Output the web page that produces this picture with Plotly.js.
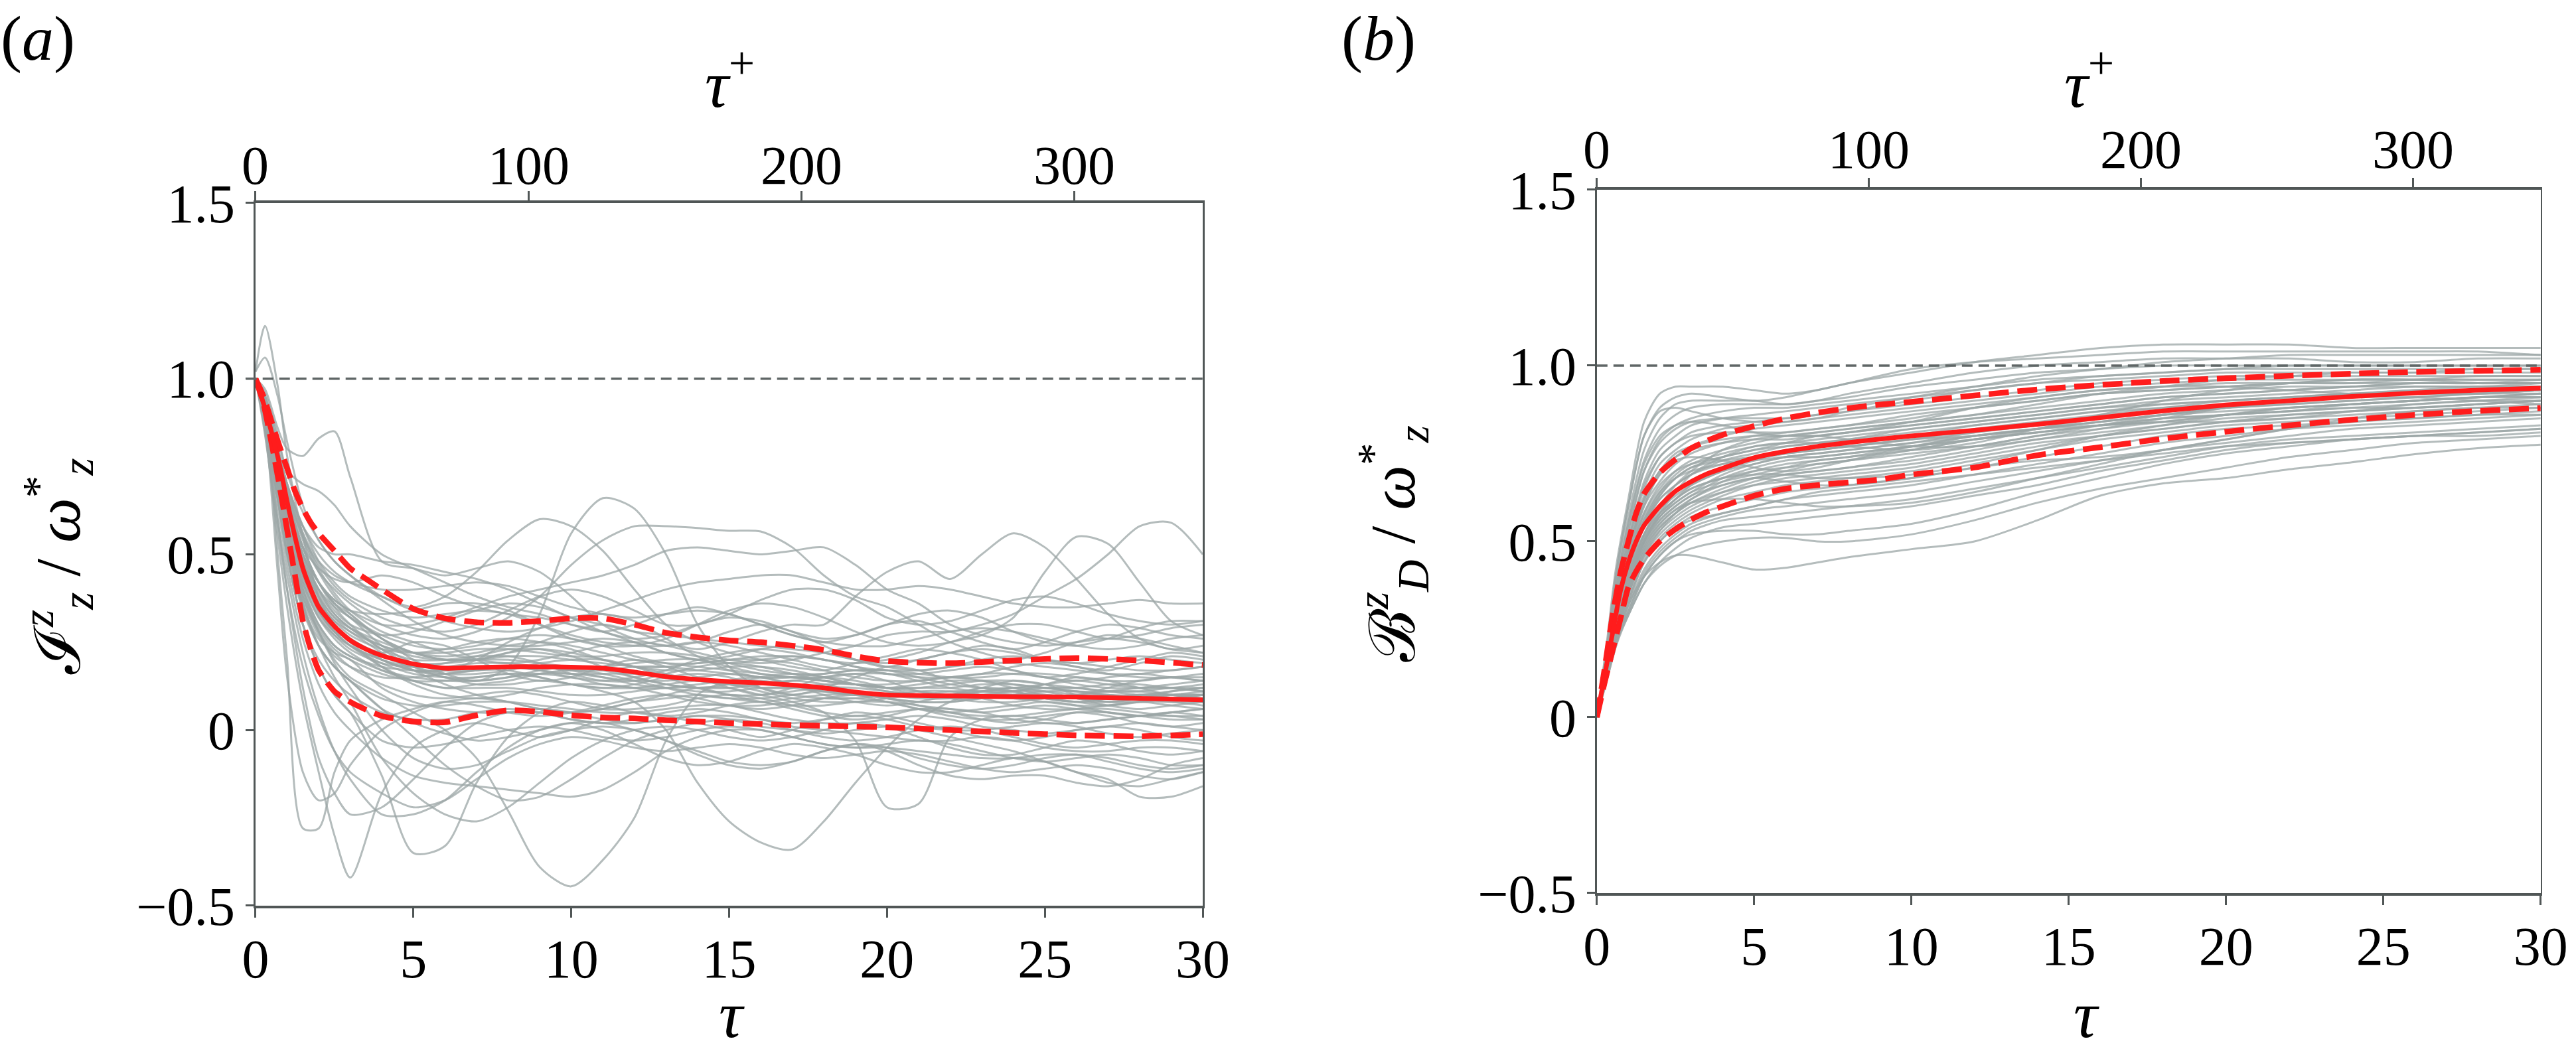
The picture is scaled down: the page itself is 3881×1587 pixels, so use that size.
<!DOCTYPE html>
<html><head><meta charset="utf-8">
<script src="https://cdn.plot.ly/plotly-3.0.1.min.js"></script>
<style>html,body{margin:0;padding:0;background:#fff;} #plot{width:3881px;height:1587px;}</style>
</head><body><div id="plot"></div>
<script>
// ---------- DATA ----------
// time grids
const tauL = [0,0.3,0.7,1,1.5,2,2.5,3,4,5,6,7,8,9,10,11,12,13,14,15,16,17,18,19,20,21,22,23,24,25,26,27,28,29,30];
const tauR = [0,0.3,0.6,1,1.5,2,2.5,3,4,5,6,7,8,10,12,14,16,18,20,22,24,26,28,30];
const tauRedL = [0,0.25,0.5,0.75,1,1.25,1.5,1.75,2,2.5,3,3.5,4,5,6,7,8,9,10,11,12,13,14,15,16,17,18,19,20,22,24,26,28,30];
const tauRedR = [0,0.25,0.5,0.75,1,1.25,1.5,2,2.5,3,3.5,4,5,6,7,8,9,10,12,14,16,18,20,22,24,26,28,30];

// panel (a): mean and +/- band of I_z^z / omega_z^*
const meanL  = [1.0,0.93,0.85,0.76,0.65,0.55,0.46,0.40,0.35,0.295,0.255,0.23,0.212,0.188,0.176,0.178,0.18,0.18,0.179,0.176,0.165,0.152,0.144,0.138,0.134,0.128,0.12,0.108,0.1,0.097,0.095,0.094,0.09,0.086];
const upperL = [1.0,0.95,0.88,0.81,0.745,0.68,0.63,0.59,0.56,0.51,0.46,0.43,0.40,0.345,0.318,0.307,0.305,0.31,0.318,0.318,0.3,0.277,0.264,0.255,0.25,0.24,0.228,0.21,0.196,0.19,0.198,0.205,0.198,0.185];
const lowerL = [1.0,0.93,0.82,0.70,0.57,0.44,0.31,0.23,0.17,0.11,0.08,0.058,0.04,0.024,0.022,0.042,0.056,0.052,0.042,0.036,0.033,0.028,0.024,0.02,0.017,0.014,0.012,0.01,0.008,0.0,-0.008,-0.015,-0.018,-0.012];

// panel (b): mean and +/- band of B_D^z / omega_z^*
const meanR  = [0,0.12,0.24,0.36,0.44,0.5,0.545,0.6,0.643,0.67,0.692,0.708,0.738,0.756,0.77,0.781,0.791,0.8,0.816,0.833,0.852,0.871,0.888,0.9,0.912,0.922,0.93,0.936];
const upperR = [0,0.14,0.29,0.41,0.5,0.58,0.635,0.695,0.733,0.765,0.786,0.803,0.828,0.85,0.866,0.879,0.889,0.897,0.915,0.932,0.945,0.956,0.964,0.971,0.977,0.982,0.985,0.988];
const lowerR = [0,0.1,0.19,0.28,0.37,0.415,0.45,0.5,0.535,0.562,0.584,0.6,0.63,0.65,0.66,0.668,0.676,0.69,0.71,0.745,0.768,0.792,0.812,0.83,0.846,0.86,0.871,0.879];

// individual realisations, panel (a), sampled on tauL
const grayL = [
 [1.02,1.15,0.98,0.78,0.55, 0.38,0.3,0.26,0.22,0.25, 0.24,0.2,0.16,0.14,0.15, 0.18,0.2,0.18,0.15,0.12, 0.1,0.12,0.15,0.16,0.14, 0.11,0.1,0.12,0.14,0.13, 0.1,0.08,0.09,0.11,0.12],
 [1.0,0.97,0.86,0.8,0.78, 0.83,0.85,0.72,0.48,0.46, 0.44,0.46,0.48,0.45,0.38, 0.3,0.26,0.24,0.25,0.28, 0.3,0.28,0.24,0.2,0.18, 0.2,0.22,0.24,0.23,0.2, 0.18,0.17,0.19,0.21,0.2],
 [1.0,0.96,0.84,0.74,0.7, 0.68,0.64,0.58,0.5,0.46, 0.42,0.38,0.35,0.33,0.3, 0.28,0.3,0.33,0.35,0.33, 0.3,0.27,0.25,0.27,0.3, 0.31,0.28,0.25,0.23,0.25, 0.28,0.3,0.29,0.27,0.26],
 [1.0,0.95,0.8,0.7,0.58, 0.5,0.45,0.42,0.38,0.35, 0.38,0.45,0.54,0.6,0.58, 0.51,0.4,0.3,0.25,0.22, 0.2,0.18,0.17,0.19,0.21, 0.23,0.22,0.2,0.17,0.15, 0.16,0.18,0.2,0.22,0.21],
 [1.0,0.93,0.78,0.66,0.52, 0.42,0.36,0.32,0.26,0.2, 0.16,0.14,0.18,0.33,0.56, 0.66,0.63,0.5,0.3,0.18, 0.12,0.1,0.12,0.15,0.18, 0.17,0.14,0.12,0.11,0.13, 0.15,0.14,0.12,0.1,0.1],
 [1.0,0.94,0.8,0.68,0.54, 0.45,0.4,0.36,0.3,0.27, 0.26,0.28,0.32,0.38,0.47, 0.54,0.58,0.58,0.575,0.567, 0.565,0.52,0.44,0.38,0.35, 0.3,0.25,0.22,0.2,0.22, 0.25,0.27,0.26,0.24,0.22],
 [1.0,0.92,0.77,0.64,0.5, 0.42,0.37,0.34,0.3,0.3, 0.32,0.35,0.38,0.4,0.42, 0.44,0.47,0.51,0.52,0.51, 0.5,0.51,0.52,0.47,0.4, 0.36,0.3,0.27,0.25,0.24, 0.25,0.26,0.25,0.23,0.22],
 [1.0,0.93,0.79,0.67,0.52, 0.42,0.36,0.33,0.26,0.22, 0.2,0.2,0.22,0.25,0.28, 0.3,0.28,0.25,0.23,0.25, 0.28,0.3,0.3,0.38,0.45, 0.48,0.43,0.5,0.56,0.52, 0.43,0.33,0.26,0.23,0.24],
 [1.0,0.9,0.74,0.62,0.48, 0.4,0.35,0.32,0.24,0.19, 0.17,0.17,0.18,0.17,0.15, 0.14,0.15,0.17,0.2,0.22, 0.23,0.22,0.2,0.19,0.2, 0.22,0.25,0.27,0.32,0.45, 0.55,0.53,0.42,0.31,0.27],
 [1.0,0.95,0.81,0.7,0.56, 0.46,0.39,0.34,0.28,0.25, 0.22,0.2,0.19,0.2,0.22, 0.24,0.25,0.24,0.22,0.2, 0.19,0.2,0.22,0.24,0.27, 0.28,0.28,0.3,0.33,0.38, 0.43,0.5,0.58,0.59,0.5],
 [1.0,0.9,0.7,0.56,0.38, 0.28,0.2,0.15,0.1,0.05, 0.0,-0.08,-0.23,-0.39,-0.445, -0.37,-0.25,-0.03,0.1,0.14, 0.15,0.13,0.1,0.08,0.07, 0.08,0.1,0.12,0.11,0.09, 0.08,0.07,0.08,0.1,0.1],
 [1.0,0.88,0.66,0.5,0.3, 0.18,0.1,0.05,-0.13,-0.35, -0.33,-0.15,-0.02,0.05,0.08, 0.07,0.05,0.04,0.05,0.07, 0.08,0.06,0.04,0.03,0.04, 0.06,0.05,0.03,0.02,0.03, 0.05,0.04,0.02,0.01,0.02],
 [1.0,0.85,0.55,0.35,0.08, -0.12,-0.3,-0.42,-0.18,-0.05, 0.0,0.02,0.0,-0.02,0.0, 0.03,0.05,0.04,0.02,0.0, -0.02,0.0,0.03,0.05,0.04, 0.02,0.0,-0.02,-0.03,-0.02, 0.0,0.01,0.0,-0.02,-0.03],
 [1.0,0.9,0.5,0.2,-0.28, -0.28,-0.12,-0.03,0.03,0.06, 0.08,0.07,0.05,0.04,0.05, 0.07,0.09,0.1,0.09,0.07, 0.06,0.07,0.09,0.1,0.09, 0.07,0.06,0.05,0.06,0.07, 0.06,0.05,0.04,0.05,0.06],
 [1.0,0.92,0.74,0.6,0.44, 0.34,0.28,0.26,0.2,0.17, 0.15,0.13,0.13,0.14,0.13, 0.11,0.08,0.0,-0.15,-0.26, -0.32,-0.34,-0.26,-0.15,-0.05, 0.03,0.08,0.11,0.11,0.09, 0.08,0.09,0.1,0.09,0.08],
 [1.0,0.93,0.76,0.62,0.45, 0.36,0.31,0.28,0.22,0.17, 0.13,0.1,0.08,0.06,0.05, 0.06,0.08,0.1,0.12,0.12, 0.1,0.08,0.05,-0.03,-0.22, -0.21,-0.02,0.03,0.04,0.03, 0.02,0.03,0.04,0.05,0.04],
 [1.0,0.88,0.66,0.52,0.35, 0.26,0.22,0.2,0.12,0.08, 0.06,0.05,0.05,0.06,0.05, 0.03,0.02,0.03,0.04,0.03, 0.01,0.0,-0.01,0.0,0.01, 0.0,-0.02,-0.04,-0.06,-0.09, -0.12,-0.14,-0.19,-0.19,-0.16],
 [1.0,0.94,0.8,0.7,0.58, 0.52,0.5,0.5,0.48,0.47, 0.45,0.43,0.4,0.36,0.32, 0.3,0.28,0.27,0.26,0.25, 0.24,0.23,0.22,0.2,0.18, 0.17,0.18,0.2,0.21,0.2, 0.19,0.18,0.17,0.17,0.18],
 [1.0,0.92,0.77,0.66,0.52, 0.46,0.43,0.42,0.44,0.42, 0.38,0.35,0.33,0.32,0.3, 0.28,0.25,0.22,0.2,0.21, 0.23,0.24,0.22,0.2,0.19, 0.2,0.22,0.23,0.22,0.2, 0.19,0.2,0.21,0.2,0.19],
 [1.0,0.92,0.8,0.7,0.58, 0.48,0.42,0.38,0.34,0.32, 0.33,0.34,0.33,0.3,0.27, 0.25,0.24,0.24,0.25,0.24, 0.22,0.2,0.18,0.17,0.16, 0.15,0.15,0.16,0.18,0.19, 0.18,0.16,0.15,0.15,0.16],
 [1.0,0.93,0.79,0.66,0.52, 0.42,0.36,0.32,0.27,0.24, 0.23,0.24,0.26,0.27,0.26, 0.24,0.21,0.19,0.18,0.17, 0.16,0.15,0.14,0.13,0.12, 0.12,0.13,0.14,0.14,0.13, 0.12,0.11,0.11,0.12,0.12],
 [1.0,0.92,0.78,0.64,0.48, 0.38,0.32,0.28,0.24,0.21, 0.2,0.2,0.21,0.21,0.2, 0.19,0.18,0.16,0.14,0.13, 0.13,0.14,0.15,0.14,0.12, 0.1,0.09,0.09,0.1,0.11, 0.11,0.1,0.09,0.09,0.1],
 [1.0,0.91,0.76,0.62,0.46, 0.36,0.3,0.26,0.21,0.18, 0.16,0.16,0.17,0.19,0.2, 0.2,0.18,0.15,0.12,0.1, 0.1,0.11,0.12,0.12,0.11, 0.1,0.1,0.11,0.12,0.11, 0.09,0.08,0.08,0.09,0.1],
 [1.0,0.93,0.78,0.65,0.5, 0.4,0.33,0.29,0.23,0.18, 0.15,0.14,0.15,0.17,0.18, 0.17,0.15,0.13,0.12,0.12, 0.13,0.14,0.13,0.11,0.09, 0.08,0.08,0.09,0.1,0.1, 0.09,0.07,0.06,0.07,0.08],
 [1.0,0.9,0.74,0.6,0.44, 0.34,0.28,0.24,0.19,0.16, 0.15,0.15,0.16,0.15,0.13, 0.12,0.12,0.13,0.14,0.13, 0.11,0.09,0.08,0.08,0.09, 0.1,0.1,0.09,0.07,0.06, 0.06,0.07,0.08,0.07,0.06],
 [1.0,0.91,0.75,0.62,0.45, 0.34,0.28,0.24,0.18,0.14, 0.12,0.13,0.14,0.16,0.17, 0.16,0.14,0.12,0.1,0.09, 0.09,0.1,0.11,0.1,0.08, 0.06,0.05,0.06,0.07,0.08, 0.07,0.05,0.04,0.05,0.06],
 [1.0,0.89,0.72,0.58,0.42, 0.32,0.26,0.22,0.17,0.14, 0.12,0.12,0.12,0.11,0.1, 0.1,0.11,0.12,0.12,0.1, 0.08,0.07,0.07,0.08,0.08, 0.07,0.05,0.04,0.04,0.05, 0.06,0.06,0.05,0.04,0.04],
 [1.0,0.92,0.77,0.63,0.47, 0.36,0.3,0.25,0.18,0.13, 0.1,0.09,0.1,0.12,0.13, 0.13,0.12,0.1,0.08,0.07, 0.07,0.08,0.09,0.09,0.08, 0.06,0.04,0.03,0.03,0.04, 0.05,0.05,0.04,0.03,0.03],
 [1.0,0.88,0.7,0.56,0.38, 0.28,0.22,0.18,0.13,0.1, 0.09,0.1,0.11,0.1,0.08, 0.06,0.06,0.07,0.09,0.1, 0.09,0.07,0.05,0.04,0.05, 0.06,0.06,0.05,0.03,0.02, 0.02,0.03,0.04,0.04,0.03],
 [1.0,0.87,0.68,0.54,0.35, 0.24,0.18,0.14,0.09,0.07, 0.07,0.08,0.08,0.07,0.06, 0.05,0.05,0.06,0.07,0.07, 0.05,0.03,0.02,0.02,0.03, 0.04,0.03,0.01,0.0,-0.01, 0.0,0.01,0.02,0.01,0.0],
 [1.0,0.86,0.66,0.5,0.3, 0.2,0.14,0.1,0.05,0.03, 0.03,0.05,0.06,0.05,0.03, 0.02,0.02,0.03,0.04,0.04, 0.03,0.01,0.0,-0.01,-0.02, -0.03,-0.03,-0.02,-0.03,-0.05, -0.06,-0.06,-0.05,-0.05,-0.06],
 [1.0,0.87,0.66,0.5,0.3, 0.18,0.1,0.05,-0.03,-0.05, -0.04,-0.02,0.0,0.01,0.0, -0.02,-0.03,-0.02,0.0,0.01, 0.0,-0.02,-0.04,-0.05,-0.05, -0.06,-0.07,-0.08,-0.08,-0.07, -0.07,-0.08,-0.1,-0.11,-0.1],
 [1.0,0.84,0.58,0.4,0.18, 0.04,-0.06,-0.12,-0.18,-0.22, -0.2,-0.14,-0.08,-0.04,-0.02, -0.03,-0.05,-0.06,-0.05,-0.04, -0.05,-0.07,-0.08,-0.07,-0.06, -0.07,-0.09,-0.11,-0.12,-0.11, -0.1,-0.11,-0.13,-0.14,-0.12],
 [1.0,0.86,0.6,0.44,0.22, 0.06,-0.06,-0.14,-0.24,-0.24, -0.2,-0.12,-0.05,0.0,0.02, 0.0,-0.04,-0.08,-0.1,-0.09, -0.06,-0.04,-0.05,-0.07,-0.1, -0.12,-0.12,-0.1,-0.08,-0.09, -0.12,-0.15,-0.16,-0.14,-0.12],
 [1.0,0.9,0.68,0.54,0.36, 0.24,0.15,0.08,-0.08,-0.18, -0.24,-0.26,-0.22,-0.15,-0.08, -0.03,0.0,0.01,0.0,-0.02, -0.03,-0.02,0.0,0.02,0.01, -0.02,-0.05,-0.07,-0.07,-0.05, -0.03,-0.04,-0.06,-0.07,-0.06],
 [1.0,0.92,0.72,0.58,0.4, 0.28,0.19,0.12,0.0,-0.08, -0.11,-0.1,-0.06,-0.02,0.0, 0.01,0.0,-0.03,-0.07,-0.1, -0.11,-0.09,-0.06,-0.04,-0.05, -0.08,-0.1,-0.11,-0.1,-0.08, -0.07,-0.09,-0.11,-0.12,-0.11],
 [1.0,0.95,0.83,0.73,0.62, 0.54,0.48,0.44,0.38,0.34, 0.31,0.29,0.28,0.29,0.31, 0.34,0.37,0.4,0.42,0.43, 0.44,0.44,0.42,0.4,0.4, 0.41,0.4,0.38,0.36,0.35, 0.35,0.36,0.37,0.36,0.36],
 [1.0,0.93,0.79,0.68,0.55, 0.47,0.41,0.37,0.32,0.29, 0.28,0.3,0.34,0.38,0.4, 0.38,0.34,0.3,0.3,0.33, 0.37,0.4,0.4,0.37,0.32, 0.3,0.31,0.34,0.37,0.38, 0.36,0.33,0.31,0.3,0.31],
 [1.0,0.92,0.77,0.65,0.5, 0.42,0.37,0.34,0.33,0.34, 0.36,0.36,0.34,0.3,0.26, 0.24,0.24,0.26,0.3,0.34, 0.36,0.35,0.32,0.28,0.25, 0.24,0.25,0.28,0.3,0.3, 0.28,0.26,0.27,0.29,0.3],
 [1.0,0.89,0.68,0.52,0.34, 0.24,0.18,0.14,0.06,-0.02, -0.1,-0.16,-0.2,-0.19,-0.14, -0.08,-0.03,0.0,0.02,0.03, 0.02,0.0,-0.02,-0.03,-0.02, 0.0,0.01,0.0,-0.02,-0.04, -0.05,-0.04,-0.03,-0.03,-0.04],
 [1.0,0.88,0.64,0.47,0.26, 0.13,0.05,0.0,-0.08,-0.13, -0.15,-0.16,-0.17,-0.18,-0.19, -0.17,-0.12,-0.06,-0.02,0.0, 0.0,-0.02,-0.04,-0.05,-0.04, -0.03,-0.04,-0.06,-0.08,-0.09, -0.08,-0.07,-0.08,-0.1,-0.1],
 [1.0,0.9,0.7,0.55,0.36, 0.24,0.18,0.14,0.06,0.02, -0.01,-0.03,-0.02,0.0,0.02, 0.02,0.0,-0.03,-0.06,-0.09, -0.1,-0.09,-0.06,-0.04,-0.06, -0.1,-0.13,-0.14,-0.13,-0.13, -0.15,-0.16,-0.14,-0.1,-0.08],
 [1.02,1.06,0.95,0.82,0.64, 0.54,0.48,0.44,0.37,0.31, 0.27,0.25,0.24,0.24,0.25, 0.26,0.25,0.22,0.2,0.19, 0.2,0.21,0.2,0.18,0.16, 0.16,0.17,0.18,0.17,0.15, 0.14,0.15,0.16,0.15,0.14],
 [1.0,0.87,0.45,0.15,-0.12, -0.2,-0.18,-0.1,0.0,0.05, 0.08,0.09,0.08,0.06,0.05, 0.06,0.08,0.09,0.1,0.09, 0.08,0.09,0.1,0.1,0.09, 0.08,0.08,0.09,0.09,0.08, 0.07,0.07,0.08,0.08,0.07],
 [1.0,0.92,0.76,0.63,0.46, 0.36,0.3,0.26,0.2,0.17, 0.17,0.2,0.25,0.29,0.32, 0.33,0.31,0.26,0.21,0.17, 0.15,0.15,0.16,0.17,0.17, 0.15,0.13,0.12,0.12,0.13, 0.14,0.13,0.12,0.12,0.13],
 [1.0,0.88,0.6,0.4,0.12, -0.08,-0.18,-0.24,-0.22,-0.14, -0.05,0.02,0.05,0.05,0.03, 0.02,0.03,0.05,0.06,0.05, 0.03,0.02,0.03,0.04,0.03, 0.01,0.0,0.0,0.01,0.02, 0.01,-0.01,-0.02,-0.01,0.0],
 [1.0,0.94,0.8,0.68,0.55, 0.45,0.38,0.33,0.26,0.22, 0.2,0.2,0.2,0.19,0.18, 0.18,0.19,0.2,0.2,0.18, 0.16,0.15,0.15,0.16,0.16, 0.14,0.12,0.11,0.11,0.12, 0.12,0.11,0.1,0.1,0.11],
 [1.0,0.93,0.79,0.66,0.52, 0.42,0.35,0.3,0.23,0.2, 0.2,0.21,0.21,0.19,0.16, 0.14,0.14,0.16,0.18,0.19, 0.18,0.16,0.14,0.13,0.13, 0.14,0.15,0.14,0.12,0.1, 0.1,0.12,0.14,0.15,0.14],
 [1.0,0.94,0.8,0.69,0.56, 0.48,0.44,0.42,0.4,0.4, 0.41,0.42,0.41,0.38,0.35, 0.33,0.32,0.33,0.34,0.33, 0.3,0.27,0.25,0.24,0.24, 0.26,0.28,0.29,0.28,0.26, 0.24,0.23,0.24,0.26,0.27],
 [1.0,0.93,0.78,0.66,0.5, 0.4,0.34,0.3,0.27,0.28, 0.31,0.34,0.36,0.35,0.32, 0.28,0.26,0.27,0.3,0.32, 0.31,0.28,0.26,0.27,0.3, 0.33,0.34,0.32,0.28,0.25, 0.24,0.26,0.29,0.31,0.31],
 [1.0,0.92,0.76,0.63,0.48, 0.38,0.32,0.29,0.25,0.22, 0.21,0.22,0.24,0.25,0.24, 0.22,0.2,0.19,0.19,0.2, 0.21,0.21,0.2,0.18,0.17, 0.17,0.18,0.19,0.19,0.18, 0.17,0.16,0.16,0.17,0.18],
 [1.0,0.91,0.74,0.6,0.44, 0.34,0.28,0.24,0.2,0.18, 0.18,0.19,0.19,0.18,0.17, 0.17,0.18,0.18,0.17,0.16, 0.15,0.15,0.14,0.13,0.12, 0.12,0.12,0.13,0.13,0.12, 0.11,0.11,0.12,0.12,0.11],
 [1.0,0.9,0.72,0.58,0.41, 0.3,0.24,0.21,0.17,0.15, 0.14,0.14,0.15,0.16,0.16, 0.15,0.13,0.12,0.11,0.11, 0.12,0.12,0.11,0.1,0.1, 0.11,0.11,0.1,0.09,0.09, 0.1,0.11,0.11,0.1,0.09],
 [1.0,0.92,0.75,0.61,0.45, 0.35,0.29,0.25,0.21,0.19, 0.19,0.2,0.22,0.23,0.22, 0.2,0.18,0.17,0.17,0.18, 0.18,0.17,0.15,0.13,0.12, 0.13,0.14,0.14,0.13,0.12, 0.12,0.13,0.13,0.12,0.11],
 [1.0,0.91,0.73,0.59,0.42, 0.32,0.27,0.24,0.2,0.17, 0.16,0.17,0.18,0.18,0.17, 0.15,0.14,0.14,0.15,0.16, 0.15,0.13,0.11,0.1,0.1, 0.1,0.11,0.11,0.1,0.09, 0.08,0.08,0.09,0.1,0.1],
 [1.0,0.93,0.77,0.64,0.49, 0.39,0.33,0.29,0.24,0.22, 0.22,0.23,0.23,0.22,0.21, 0.21,0.22,0.22,0.21,0.19, 0.17,0.16,0.16,0.17,0.17, 0.16,0.15,0.15,0.16,0.16, 0.15,0.14,0.14,0.15,0.15],
 [1.0,0.9,0.71,0.56,0.39, 0.29,0.23,0.2,0.16,0.14, 0.14,0.15,0.16,0.16,0.15, 0.13,0.12,0.12,0.13,0.14, 0.14,0.13,0.12,0.11,0.1, 0.09,0.09,0.1,0.11,0.11, 0.1,0.09,0.09,0.09,0.1],
 [1.0,0.92,0.74,0.6,0.43, 0.33,0.27,0.23,0.19,0.18, 0.19,0.21,0.23,0.23,0.21, 0.18,0.15,0.13,0.12,0.13, 0.15,0.16,0.15,0.13,0.11, 0.1,0.1,0.11,0.12,0.12, 0.11,0.1,0.1,0.11,0.12],
 [1.0,0.89,0.7,0.55,0.37, 0.27,0.21,0.18,0.15,0.15, 0.16,0.17,0.17,0.15,0.13, 0.12,0.13,0.15,0.16,0.15, 0.12,0.1,0.09,0.09,0.1, 0.1,0.09,0.08,0.08,0.09, 0.1,0.1,0.09,0.08,0.08],
 [1.0,0.93,0.76,0.63,0.47, 0.37,0.31,0.27,0.23,0.22, 0.23,0.25,0.26,0.25,0.23, 0.2,0.18,0.18,0.19,0.2, 0.2,0.19,0.17,0.15,0.14, 0.14,0.15,0.16,0.16,0.15, 0.13,0.12,0.12,0.13,0.14],
 [1.0,0.9,0.72,0.57,0.4, 0.3,0.24,0.21,0.18,0.17, 0.17,0.18,0.18,0.17,0.16, 0.16,0.16,0.15,0.14,0.13, 0.12,0.12,0.13,0.13,0.12, 0.11,0.1,0.1,0.1,0.1, 0.09,0.09,0.1,0.1,0.09]
];

// individual realisations, panel (b), sampled on tauR
const grayR = [
 [0,0.2,0.42,0.62,0.84,0.92,0.94,0.94,0.94,0.93,0.92,0.93,0.95,0.98,1.01,1.03,1.05,1.06,1.06,1.06,1.05,1.05,1.05,1.05],
 [0,0.18,0.4,0.6,0.8,0.88,0.91,0.92,0.91,0.9,0.91,0.93,0.95,0.99,1.01,1.02,1.03,1.04,1.04,1.04,1.04,1.04,1.04,1.03],
 [0,0.18,0.38,0.57,0.76,0.85,0.89,0.9,0.9,0.9,0.89,0.9,0.92,0.95,0.98,1.0,1.01,1.02,1.02,1.02,1.01,1.01,1.02,1.02],
 [0,0.17,0.36,0.55,0.73,0.82,0.86,0.88,0.89,0.89,0.89,0.9,0.91,0.94,0.96,0.98,0.99,1.0,1.0,1.0,1.0,1.0,1.0,1.0],
 [0,0.17,0.35,0.52,0.7,0.79,0.83,0.85,0.87,0.88,0.88,0.89,0.9,0.92,0.94,0.96,0.97,0.98,0.99,0.99,0.99,0.99,0.99,0.99],
 [0,0.16,0.34,0.5,0.67,0.76,0.8,0.83,0.85,0.86,0.87,0.88,0.89,0.91,0.93,0.95,0.96,0.97,0.98,0.98,0.98,0.98,0.98,0.98],
 [0,0.16,0.33,0.49,0.65,0.74,0.78,0.81,0.83,0.84,0.85,0.86,0.87,0.89,0.91,0.93,0.95,0.96,0.97,0.97,0.97,0.97,0.97,0.97],
 [0,0.16,0.32,0.48,0.63,0.72,0.76,0.79,0.82,0.83,0.84,0.85,0.86,0.88,0.9,0.92,0.94,0.95,0.96,0.96,0.96,0.96,0.96,0.96],
 [0,0.15,0.31,0.47,0.61,0.69,0.74,0.77,0.8,0.82,0.83,0.84,0.85,0.87,0.89,0.91,0.93,0.94,0.95,0.95,0.95,0.96,0.96,0.96],
 [0,0.15,0.3,0.46,0.6,0.67,0.72,0.75,0.78,0.8,0.81,0.82,0.83,0.86,0.88,0.9,0.92,0.93,0.94,0.95,0.95,0.95,0.95,0.95],
 [0,0.15,0.3,0.45,0.58,0.65,0.7,0.73,0.76,0.78,0.8,0.81,0.82,0.84,0.86,0.88,0.9,0.92,0.93,0.94,0.94,0.95,0.95,0.95],
 [0,0.15,0.29,0.44,0.56,0.63,0.68,0.71,0.74,0.76,0.78,0.8,0.81,0.83,0.85,0.87,0.89,0.91,0.92,0.93,0.94,0.94,0.94,0.95],
 [0,0.14,0.29,0.43,0.55,0.62,0.66,0.69,0.73,0.75,0.77,0.78,0.79,0.82,0.84,0.86,0.88,0.9,0.91,0.92,0.93,0.94,0.94,0.94],
 [0,0.14,0.28,0.42,0.54,0.6,0.64,0.67,0.71,0.74,0.76,0.77,0.78,0.8,0.83,0.85,0.87,0.89,0.9,0.91,0.92,0.93,0.93,0.94],
 [0,0.14,0.28,0.41,0.52,0.58,0.62,0.66,0.7,0.73,0.75,0.76,0.77,0.79,0.82,0.84,0.86,0.88,0.89,0.9,0.91,0.92,0.93,0.93],
 [0,0.14,0.27,0.4,0.51,0.57,0.61,0.64,0.69,0.72,0.74,0.75,0.76,0.78,0.81,0.83,0.85,0.87,0.88,0.89,0.9,0.91,0.92,0.93],
 [0,0.13,0.27,0.39,0.5,0.56,0.6,0.63,0.68,0.71,0.73,0.74,0.75,0.77,0.8,0.82,0.84,0.86,0.87,0.88,0.89,0.9,0.91,0.92],
 [0,0.13,0.26,0.38,0.49,0.55,0.59,0.62,0.67,0.7,0.72,0.73,0.74,0.76,0.79,0.81,0.83,0.85,0.86,0.88,0.89,0.9,0.91,0.92],
 [0,0.13,0.26,0.37,0.48,0.54,0.58,0.61,0.65,0.68,0.7,0.72,0.73,0.75,0.77,0.8,0.82,0.84,0.86,0.87,0.88,0.89,0.9,0.91],
 [0,0.13,0.25,0.36,0.47,0.53,0.57,0.6,0.64,0.67,0.69,0.7,0.71,0.73,0.76,0.79,0.81,0.83,0.85,0.86,0.87,0.88,0.89,0.9],
 [0,0.12,0.25,0.35,0.46,0.52,0.56,0.59,0.63,0.66,0.68,0.69,0.7,0.72,0.75,0.78,0.8,0.82,0.84,0.85,0.86,0.87,0.88,0.89],
 [0,0.12,0.24,0.34,0.45,0.51,0.55,0.58,0.62,0.64,0.66,0.67,0.68,0.7,0.73,0.76,0.79,0.81,0.83,0.84,0.85,0.86,0.87,0.88],
 [0,0.12,0.24,0.33,0.44,0.5,0.54,0.57,0.6,0.62,0.64,0.65,0.66,0.68,0.71,0.74,0.77,0.8,0.82,0.83,0.84,0.85,0.86,0.87],
 [0,0.12,0.23,0.32,0.42,0.48,0.52,0.55,0.58,0.6,0.62,0.63,0.64,0.66,0.69,0.72,0.75,0.78,0.8,0.82,0.83,0.84,0.85,0.86],
 [0,0.11,0.22,0.31,0.41,0.47,0.51,0.54,0.57,0.59,0.6,0.61,0.62,0.64,0.67,0.7,0.73,0.76,0.78,0.8,0.82,0.83,0.84,0.85],
 [0,0.11,0.22,0.3,0.4,0.46,0.5,0.53,0.56,0.57,0.58,0.59,0.6,0.62,0.65,0.68,0.71,0.74,0.77,0.79,0.8,0.81,0.82,0.83],
 [0,0.11,0.21,0.29,0.38,0.44,0.48,0.51,0.54,0.55,0.56,0.57,0.58,0.6,0.63,0.66,0.7,0.73,0.76,0.78,0.79,0.8,0.81,0.82],
 [0,0.1,0.2,0.32,0.4,0.44,0.46,0.46,0.44,0.42,0.425,0.44,0.455,0.478,0.5,0.56,0.63,0.665,0.68,0.705,0.725,0.748,0.765,0.775],
 [0,0.1,0.2,0.29,0.38,0.43,0.46,0.48,0.5,0.51,0.51,0.5,0.5,0.52,0.56,0.61,0.65,0.68,0.71,0.74,0.76,0.78,0.79,0.8],
 [0,0.11,0.21,0.3,0.4,0.46,0.5,0.52,0.53,0.53,0.52,0.52,0.53,0.55,0.59,0.64,0.68,0.72,0.75,0.77,0.79,0.8,0.81,0.82],
 [0,0.19,0.4,0.6,0.8,0.87,0.88,0.87,0.85,0.84,0.84,0.85,0.87,0.9,0.93,0.95,0.97,0.98,0.99,1.0,1.0,1.0,1.0,1.0],
 [0,0.12,0.24,0.36,0.48,0.55,0.59,0.61,0.62,0.62,0.61,0.6,0.6,0.61,0.64,0.68,0.72,0.76,0.79,0.82,0.84,0.85,0.86,0.86],
 [0,0.13,0.26,0.38,0.5,0.57,0.62,0.65,0.68,0.69,0.69,0.68,0.68,0.69,0.72,0.76,0.8,0.83,0.86,0.88,0.89,0.9,0.91,0.91],
 [0,0.14,0.28,0.42,0.55,0.63,0.68,0.71,0.73,0.74,0.75,0.76,0.77,0.79,0.8,0.82,0.84,0.86,0.88,0.9,0.91,0.92,0.93,0.94],
 [0,0.15,0.31,0.47,0.62,0.7,0.75,0.77,0.79,0.8,0.8,0.81,0.82,0.84,0.86,0.89,0.92,0.94,0.96,0.97,0.98,0.98,0.99,0.99],
 [0,0.17,0.35,0.53,0.7,0.78,0.82,0.84,0.85,0.85,0.85,0.86,0.88,0.91,0.94,0.97,0.99,1.01,1.02,1.03,1.03,1.03,1.03,1.03],
 [0,0.14,0.29,0.44,0.57,0.64,0.68,0.7,0.72,0.73,0.74,0.74,0.75,0.77,0.79,0.81,0.83,0.85,0.86,0.87,0.88,0.88,0.89,0.9],
 [0,0.12,0.25,0.37,0.49,0.56,0.6,0.63,0.66,0.68,0.69,0.7,0.71,0.74,0.77,0.8,0.83,0.86,0.88,0.9,0.91,0.92,0.92,0.93],
 [0,0.11,0.23,0.33,0.44,0.5,0.54,0.56,0.58,0.6,0.62,0.64,0.65,0.67,0.69,0.71,0.73,0.75,0.77,0.78,0.79,0.8,0.8,0.81],
 [0,0.13,0.27,0.4,0.52,0.59,0.63,0.66,0.7,0.72,0.74,0.75,0.76,0.78,0.8,0.82,0.84,0.86,0.88,0.89,0.9,0.91,0.92,0.92],
 [0,0.18,0.37,0.55,0.72,0.8,0.83,0.84,0.83,0.81,0.8,0.8,0.81,0.84,0.88,0.91,0.93,0.94,0.94,0.93,0.92,0.92,0.93,0.94],
 [0,0.14,0.3,0.45,0.6,0.69,0.73,0.74,0.73,0.71,0.7,0.71,0.73,0.77,0.8,0.82,0.83,0.84,0.84,0.85,0.87,0.89,0.9,0.9],
 [0,0.13,0.26,0.39,0.52,0.6,0.66,0.7,0.76,0.79,0.8,0.8,0.79,0.77,0.77,0.79,0.82,0.85,0.88,0.9,0.91,0.91,0.9,0.89],
 [0,0.12,0.25,0.37,0.5,0.58,0.64,0.69,0.74,0.77,0.78,0.78,0.77,0.76,0.78,0.82,0.86,0.9,0.93,0.95,0.96,0.96,0.95,0.95],
 [0,0.11,0.23,0.35,0.46,0.53,0.58,0.62,0.66,0.68,0.67,0.66,0.66,0.68,0.71,0.73,0.74,0.76,0.79,0.82,0.85,0.87,0.88,0.88],
 [0,0.15,0.31,0.47,0.62,0.7,0.74,0.76,0.78,0.79,0.79,0.8,0.81,0.83,0.85,0.87,0.89,0.91,0.92,0.93,0.94,0.95,0.95,0.96],
 [0,0.14,0.29,0.44,0.58,0.66,0.7,0.72,0.74,0.76,0.77,0.78,0.79,0.81,0.83,0.85,0.87,0.88,0.9,0.91,0.92,0.93,0.94,0.94],
 [0,0.13,0.27,0.41,0.54,0.62,0.66,0.69,0.72,0.74,0.75,0.76,0.77,0.79,0.81,0.83,0.85,0.87,0.89,0.9,0.91,0.92,0.93,0.93],
 [0,0.14,0.28,0.42,0.56,0.64,0.69,0.72,0.75,0.77,0.78,0.79,0.8,0.82,0.84,0.86,0.88,0.89,0.9,0.91,0.92,0.92,0.93,0.93],
 [0,0.13,0.26,0.39,0.51,0.58,0.62,0.65,0.68,0.7,0.71,0.72,0.73,0.76,0.79,0.82,0.85,0.87,0.89,0.9,0.91,0.92,0.92,0.93],
 [0,0.12,0.25,0.38,0.5,0.57,0.61,0.64,0.67,0.69,0.71,0.73,0.74,0.77,0.79,0.81,0.83,0.84,0.86,0.87,0.89,0.9,0.91,0.91],
 [0,0.16,0.33,0.5,0.66,0.74,0.78,0.8,0.81,0.81,0.81,0.82,0.83,0.85,0.88,0.9,0.92,0.93,0.94,0.95,0.96,0.96,0.97,0.97],
 [0,0.12,0.24,0.35,0.47,0.54,0.58,0.61,0.64,0.66,0.67,0.68,0.69,0.71,0.74,0.77,0.8,0.82,0.84,0.86,0.87,0.88,0.89,0.9]
];

// ticks and labels
const xTickVals = [0,5,10,15,20,25,30];
const xTickText = ['0','5','10','15','20','25','30'];
const topTickVals = [0,100,200,300];
const topTickText = ['0','100','200','300'];
const yTickVals = [-0.5,0,0.5,1,1.5];
const yTickText = ['\u22120.5','0','0.5','1.0','1.5'];
const refLevel = 1.0;
const tauRange = [0,30];
const tauPlusRange = [0,347];
const yRange = [-0.5,1.5];

// ---------- STYLE ----------
const FONT = '"Liberation Serif", "Times New Roman", serif';
const GRAY = 'rgba(155,165,165,0.75)';
const RED = 'rgb(255,28,28)';
const AXC = 'rgb(80,86,86)';

function grayTraces(tau, rows, xa, ya){
  return rows.map(r => ({x: tau, y: r, type:'scatter', mode:'lines', xaxis: xa, yaxis: ya,
    line:{color:GRAY, width:3.0, shape:'spline', smoothing:0.8}, hoverinfo:'skip', showlegend:false}));
}
function redTraces(tau, m, u, l, xa, ya){
  const dash = {color:RED, width:8.5, dash:'30px,13px', shape:'spline', smoothing:0.6};
  return [
    {x: tau, y: u, type:'scatter', mode:'lines', xaxis:xa, yaxis:ya, line:dash, showlegend:false, hoverinfo:'skip'},
    {x: tau, y: l, type:'scatter', mode:'lines', xaxis:xa, yaxis:ya, line:dash, showlegend:false, hoverinfo:'skip'},
    {x: tau, y: m, type:'scatter', mode:'lines', xaxis:xa, yaxis:ya, line:{color:RED, width:7, shape:'spline', smoothing:0.6}, showlegend:false, hoverinfo:'skip'}
  ];
}
// empty carrier trace so that the top (tau+) axis gets drawn
function topCarrier(xa, ya){
  return {x: topTickVals, y: topTickVals.map(() => null), type:'scatter', mode:'markers', xaxis:xa, yaxis:ya,
    marker:{opacity:0}, hoverinfo:'skip', showlegend:false};
}

const data = [].concat(
  grayTraces(tauL, grayL, 'x', 'y'),
  redTraces(tauRedL, meanL, upperL, lowerL, 'x', 'y'),
  [topCarrier('x2','y')],
  grayTraces(tauR, grayR, 'x3', 'y2'),
  redTraces(tauRedR, meanR, upperR, lowerR, 'x3', 'y2'),
  [topCarrier('x4','y2')]
);

function bottomAxis(domain, anchor){
  return {domain: domain, anchor: anchor, range: tauRange, tickmode:'array', tickvals: xTickVals, ticktext: xTickText,
    ticks:'outside', ticklen:14, tickwidth:3, tickcolor:AXC, showline:true, linecolor:AXC, linewidth:4,
    ticklabelstandoff:-8,
    showgrid:false, zeroline:false, tickfont:{family:FONT, size:82, color:'#000'}, automargin:false};
}
function topAxis(over, anchor){
  // tick labels of the tau+ axis are placed as annotations below (exact offset control)
  return {overlaying: over, side:'top', anchor: anchor, range: tauPlusRange, tickmode:'array', tickvals: topTickVals,
    ticks:'outside', ticklen:14, tickwidth:3, tickcolor:AXC, showline:true, linecolor:AXC, linewidth:4,
    showticklabels:false, showgrid:false, zeroline:false, automargin:false};
}
function leftAxis(domain, anchor){
  return {domain: domain, anchor: anchor, range: yRange, tickmode:'array', tickvals: yTickVals, ticktext: yTickText,
    ticks:'outside', ticklen:12, tickwidth:3, tickcolor:AXC, showline:true, mirror:true, linecolor:AXC, linewidth:2.5,
    showgrid:false, zeroline:false, tickfont:{family:FONT, size:82, color:'#000'}, automargin:false};
}
function txt(text, x, y, size, angle, yanchor){
  return {text:text, xref:'paper', yref:'paper', x:x, y:y, xanchor:'center', yanchor:yanchor||'middle', textangle:angle||0,
    showarrow:false, font:{family:FONT, size:size, color:'#000'}};
}
function topLabels(xa, yPaper){
  return topTickVals.map((v, i) => ({text: topTickText[i], xref: xa, yref:'paper', x: v, y: yPaper,
    xanchor:'center', yanchor:'middle', showarrow:false, font:{family:FONT, size:82, color:'#000'}}));
}

const layout = {
  width:3881, height:1587, margin:{l:0,r:0,t:0,b:0}, paper_bgcolor:'#fff', plot_bgcolor:'#fff', showlegend:false,
  font:{family:FONT, color:'#000'},
  xaxis: bottomAxis([0.0992,0.4669], 'y'),
  xaxis2: topAxis('x', 'y'),
  xaxis3: bottomAxis([0.6199,0.9863], 'y2'),
  xaxis4: topAxis('x3', 'y2'),
  yaxis: leftAxis([0.1399,0.8072], 'x'),
  yaxis2: leftAxis([0.1519,0.8198], 'x3'),
  shapes: [
    {type:'line', xref:'x domain', yref:'y', x0:-0.01, x1:1, y0:refLevel, y1:refLevel, layer:'above', line:{color:'rgb(95,102,102)', width:3.5, dash:'16px,9px'}},
    {type:'line', xref:'x3 domain', yref:'y2', x0:0, x1:1, y0:refLevel, y1:refLevel, layer:'above', line:{color:'rgb(95,102,102)', width:3.5, dash:'16px,9px'}}
  ],
  annotations: [].concat(
    topLabels('x2', 0.8431),
    topLabels('x4', 0.8576),
    [
      txt('(<i>a</i>)', 0.0147, 0.9635, 96),
      txt('(<i>b</i>)', 0.5352, 0.9635, 96),
      txt('<i>τ</i>', 0.2842, 0.0, 100, 0, 'bottom'),
      txt('<i>τ</i>', 0.8100, 0.0, 100, 0, 'bottom'),
      txt('<i>τ</i><sup>+</sup>', 0.2834, 0.9244, 100),
      txt('<i>τ</i><sup>+</sup>', 0.8110, 0.9244, 100),
      txt('ℐ<sup><i>z</i></sup><sub><i>z</i></sub> / <i>ω</i><sup>*</sup><sub><i>z</i></sub>', 0.0224, 0.4625, 96, -90),
      txt('ℬ<sup><i>z</i></sup><sub><i>D</i></sub> / <i>ω</i><sup>*</sup><sub><i>z</i></sub>', 0.5406, 0.4833, 96, -90)
    ]
  )
};

Plotly.newPlot('plot', data, layout, {staticPlot:true, displayModeBar:false});
</script></body></html>
